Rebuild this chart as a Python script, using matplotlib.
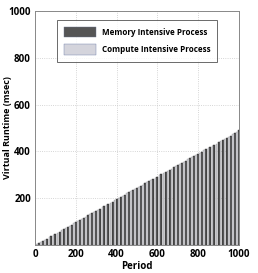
import matplotlib
matplotlib.use("Agg")
import matplotlib.pyplot as plt

compute_periods = [10 + 20 * i for i in range(50)]
memory_periods = [20 + 20 * i for i in range(50)]

compute_runtime = [3, 13, 22, 32, 42, 52, 62, 72, 82, 92,
                   102, 111, 121, 131, 141, 150, 160, 170, 180, 190,
                   200, 210, 220, 229, 239, 249, 258, 268, 278, 288,
                   297, 307, 317, 326, 336, 346, 355, 365, 375, 385,
                   394, 404, 414, 423, 433, 443, 452, 462, 472, 482]
memory_runtime = [8, 18, 27, 37, 47, 57, 67, 77, 87, 97,
                  106, 116, 126, 136, 146, 155, 165, 175, 185, 195,
                  205, 214, 224, 234, 244, 253, 263, 273, 283, 292,
                  302, 312, 321, 331, 341, 351, 360, 370, 380, 389,
                  399, 409, 418, 428, 438, 447, 457, 467, 477, 490]

plt.rcParams['font.family'] = ['Open Sans', 'DejaVu Sans']

fig = plt.figure(figsize=(2.58, 2.73), dpi=100)
ax = fig.add_axes([0.136, 0.103, 0.790, 0.857])

ax.bar(memory_periods, memory_runtime, width=10, color="#484848",
       edgecolor="#333333", linewidth=0.3, label="Memory Intensive Process", zorder=3)
ax.bar(compute_periods, compute_runtime, width=8, color="#cfcfd2",
       edgecolor="#9a9aa0", linewidth=0.3, label="Compute Intensive Process", zorder=3)

ax.set_xlim(0, 1000)
ax.set_ylim(0, 1000)
ax.set_xticks([0, 200, 400, 600, 800, 1000])
ax.set_yticks([200, 400, 600, 800, 1000])
ax.tick_params(length=0, labelsize=7, pad=3)
for lab in ax.get_xticklabels() + ax.get_yticklabels():
    lab.set_fontweight("bold")
ax.grid(True, linestyle=":", color="#c8c8c8", linewidth=0.6, zorder=0)
for s in ax.spines.values():
    s.set_color("#888888")
    s.set_linewidth(0.7)

ax.set_xlabel("Period", fontsize=7, fontweight="bold", labelpad=1)
ax.set_ylabel("Virtual Runtime (msec)", fontsize=6.5, fontweight="bold")
ax.yaxis.set_label_coords(-0.115, 0.5)

leg = ax.legend(loc="upper center", bbox_to_anchor=(0.5, 0.98), fontsize=5.8,
                frameon=True, fancybox=False, handlelength=4.0, handleheight=1.6,
                borderpad=0.9, labelspacing=0.9, handletextpad=0.7)
leg.get_frame().set_edgecolor("#444444")
leg.get_frame().set_linewidth(0.7)
for t in leg.get_texts():
    t.set_fontweight("bold")
leg.legend_handles[0].set_facecolor("#555555")
leg.legend_handles[0].set_edgecolor("#6a7590")
leg.legend_handles[1].set_edgecolor("#6a7aa8")
leg.legend_handles[1].set_facecolor("#d4d4dc")

fig.savefig("out.png", dpi=100)
